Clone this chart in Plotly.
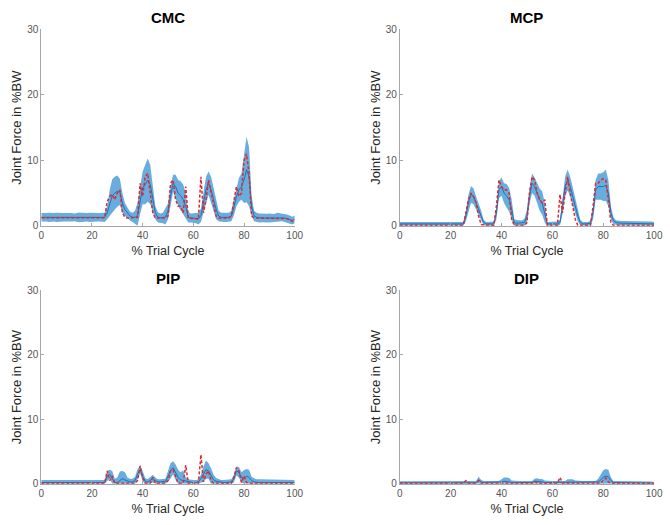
import plotly.graph_objects as go

# Percent of trial cycle (shared x grid for every joint)
cycle = list(range(0, 101))

# ---- CMC ----
cmc_mean = [
    1.3, 1.3, 1.3, 1.3, 1.3, 1.3, 1.3, 1.3, 1.3, 1.3,
    1.3, 1.3, 1.3, 1.3, 1.3, 1.3, 1.3, 1.3, 1.3, 1.3,
    1.3, 1.3, 1.3, 1.3, 1.3, 1.3, 2.0, 3.5, 4.6, 5.0,
    5.3, 5.2, 3.5, 2.5, 2.0, 1.5, 1.3, 1.3, 1.6, 3.8,
    5.8, 6.3, 7.0, 6.3, 4.0, 2.0, 1.3, 1.2, 1.2, 1.4,
    2.2, 4.5, 6.5, 6.0, 5.0, 4.6, 4.0, 3.0, 1.3, 1.2,
    1.2, 1.2, 1.1, 1.6, 3.5, 5.5, 6.5, 5.5, 4.0, 2.5,
    1.5, 1.3, 1.3, 1.3, 1.3, 1.5, 2.8, 4.5, 5.5, 6.0,
    7.0, 8.6, 7.5, 3.0, 1.5, 1.3, 1.2, 1.2, 1.2, 1.2,
    1.2, 1.2, 1.2, 1.3, 1.3, 1.3, 1.2, 1.1, 1.0, 0.8,
    1.0,
]
cmc_sd = [
    0.65, 0.6, 0.65, 0.7, 0.65, 0.65, 0.7, 0.65, 0.6, 0.65,
    0.65, 0.7, 0.65, 0.6, 0.7, 0.75, 0.7, 0.65, 0.65, 0.7,
    0.65, 0.7, 0.65, 0.65, 0.7, 0.7, 1.0, 2.0, 2.5, 2.5,
    2.4, 2.0, 1.5, 1.0, 0.8, 0.7, 0.7, 1.0, 2.0, 2.0,
    2.5, 3.0, 3.3, 3.0, 2.0, 1.0, 0.8, 0.7, 0.8, 1.2,
    1.2, 1.5, 1.3, 1.8, 2.0, 2.2, 2.3, 2.0, 0.8, 0.7,
    0.7, 0.8, 0.9, 1.0, 1.5, 2.0, 1.8, 2.0, 1.8, 1.5,
    0.8, 0.7, 0.7, 0.7, 0.7, 0.8, 1.2, 1.5, 1.8, 2.0,
    3.5, 5.0, 4.5, 1.5, 0.8, 0.7, 0.7, 0.65, 0.7, 0.65,
    0.7, 0.65, 0.6, 0.7, 0.65, 0.6, 0.6, 0.65, 0.6, 0.6,
    0.6,
]
cmc_ref = [
    1.25, 1.25, 1.25, 1.25, 1.25, 1.25, 1.25, 1.25, 1.25, 1.25,
    1.25, 1.25, 1.25, 1.25, 1.25, 1.25, 1.25, 1.25, 1.25, 1.25,
    1.25, 1.25, 1.25, 1.25, 1.25, 1.25, 3.7, 4.5, 4.8, 4.0,
    5.0, 5.5, 2.0, 1.3, 1.2, 1.2, 1.2, 1.2, 1.3, 6.5,
    4.5, 7.5, 8.0, 5.0, 2.0, 1.2, 1.2, 1.2, 1.2, 1.2,
    1.5, 6.5, 7.0, 4.0, 3.0, 3.0, 2.0, 6.0, 1.2, 1.2,
    1.2, 1.1, 1.0, 7.5, 2.0, 4.0, 7.0, 5.0, 3.0, 1.5,
    1.2, 1.2, 1.2, 1.2, 1.2, 1.5, 4.0, 6.0, 4.5, 5.0,
    10.0, 11.0, 8.0, 1.5, 1.2, 1.2, 1.2, 1.2, 1.2, 1.2,
    1.2, 1.2, 1.2, 1.2, 1.2, 1.2, 1.2, 1.1, 1.0, 0.7,
    1.0,
]

# ---- MCP ----
mcp_mean = [
    0.3, 0.3, 0.3, 0.3, 0.3, 0.3, 0.3, 0.3, 0.3, 0.3,
    0.3, 0.3, 0.3, 0.3, 0.3, 0.3, 0.3, 0.3, 0.3, 0.3,
    0.3, 0.3, 0.3, 0.3, 0.3, 0.3, 1.5, 3.5, 4.8, 4.5,
    3.5, 2.5, 1.5, 0.5, 0.3, 0.3, 0.3, 0.3, 2.0, 5.5,
    6.0, 5.0, 4.6, 4.0, 2.5, 0.5, 0.4, 0.4, 0.4, 0.5,
    1.5, 4.5, 6.5, 6.0, 5.0, 4.0, 3.5, 2.0, 0.3, 0.3,
    0.3, 0.3, 0.3, 0.5, 3.0, 6.0, 7.0, 6.0, 4.5, 3.0,
    1.5, 0.5, 0.3, 0.3, 0.3, 0.4, 2.0, 5.5, 6.0, 6.0,
    6.0, 6.2, 5.0, 2.0, 0.8, 0.5, 0.4, 0.4, 0.4, 0.4,
    0.4, 0.4, 0.35, 0.35, 0.35, 0.3, 0.3, 0.3, 0.3, 0.3,
    0.3,
]
mcp_sd = [
    0.3, 0.3, 0.3, 0.3, 0.3, 0.3, 0.3, 0.3, 0.3, 0.3,
    0.3, 0.3, 0.3, 0.3, 0.3, 0.3, 0.3, 0.3, 0.3, 0.3,
    0.3, 0.3, 0.3, 0.3, 0.3, 0.3, 0.8, 1.2, 1.3, 1.2,
    1.0, 1.0, 0.8, 0.4, 0.3, 0.3, 0.3, 0.35, 1.0, 1.3,
    1.4, 1.5, 1.8, 1.8, 1.5, 0.5, 0.5, 0.5, 0.4, 0.6,
    1.0, 1.2, 1.5, 1.4, 1.5, 1.7, 1.8, 1.5, 0.3, 0.3,
    0.3, 0.3, 0.35, 0.4, 1.2, 1.5, 1.6, 1.5, 1.4, 1.2,
    0.8, 0.4, 0.3, 0.3, 0.3, 0.4, 1.0, 1.5, 2.0, 2.0,
    2.2, 2.4, 2.0, 1.0, 0.5, 0.35, 0.35, 0.35, 0.35, 0.35,
    0.35, 0.35, 0.35, 0.35, 0.35, 0.35, 0.35, 0.35, 0.35, 0.35,
    0.3,
]
mcp_ref = [
    0.1, 0.1, 0.1, 0.1, 0.1, 0.1, 0.1, 0.1, 0.1, 0.1,
    0.1, 0.1, 0.1, 0.1, 0.1, 0.1, 0.1, 0.1, 0.1, 0.1,
    0.1, 0.1, 0.1, 0.1, 0.1, 0.1, 2.0, 4.0, 5.0, 4.5,
    3.5, 1.5, 0.2, 0.1, 0.1, 0.1, 0.1, 0.1, 3.0, 7.0,
    6.0, 5.5, 5.5, 5.0, 1.0, 0.1, 0.1, 0.1, 0.1, 0.1,
    0.5, 5.0, 7.5, 7.0, 5.0, 4.0, 3.5, 4.0, 0.1, 0.1,
    0.1, 0.1, 0.1, 4.8, 2.0, 5.0, 7.5, 5.0, 3.0, 1.0,
    0.1, 0.1, 0.1, 0.1, 0.1, 0.1, 3.0, 6.5, 6.5, 7.0,
    7.2, 7.0, 4.0, 0.5, 0.1, 0.1, 0.1, 0.1, 0.1, 0.1,
    0.1, 0.1, 0.1, 0.1, 0.1, 0.1, 0.1, 0.1, 0.1, 0.1,
    0.1,
]

# ---- PIP ----
pip_mean = [
    0.2, 0.2, 0.2, 0.2, 0.2, 0.2, 0.2, 0.2, 0.2, 0.2,
    0.2, 0.2, 0.2, 0.2, 0.2, 0.2, 0.2, 0.2, 0.2, 0.2,
    0.2, 0.2, 0.2, 0.2, 0.2, 0.2, 1.2, 1.5, 0.8, 0.2,
    0.2, 0.5, 0.8, 0.6, 0.4, 0.3, 0.3, 0.5, 1.5, 2.2,
    1.2, 0.4, 0.3, 0.5, 0.8, 0.5, 0.3, 0.3, 0.3, 0.4,
    1.2, 2.0, 2.5, 1.8, 1.0, 0.6, 0.5, 0.4, 0.3, 0.2,
    0.2, 0.2, 0.3, 0.8, 1.5, 2.2, 2.0, 1.2, 0.6, 0.4,
    0.3, 0.2, 0.2, 0.2, 0.2, 0.3, 0.8, 2.0, 1.8, 1.0,
    0.8, 1.2, 1.0, 0.5, 0.3, 0.2, 0.2, 0.2, 0.2, 0.2,
    0.2, 0.2, 0.2, 0.2, 0.2, 0.2, 0.2, 0.2, 0.2, 0.2,
    0.2,
]
pip_sd = [
    0.4, 0.4, 0.4, 0.4, 0.4, 0.4, 0.4, 0.4, 0.4, 0.4,
    0.4, 0.4, 0.4, 0.4, 0.4, 0.4, 0.4, 0.4, 0.4, 0.4,
    0.4, 0.4, 0.4, 0.4, 0.4, 0.4, 0.8, 0.7, 1.2, 0.6,
    0.8, 1.4, 1.2, 1.2, 0.6, 0.5, 0.5, 0.6, 0.8, 0.6,
    0.8, 0.5, 0.4, 0.6, 0.6, 0.5, 0.4, 0.4, 0.4, 0.4,
    0.8, 1.2, 1.0, 1.2, 1.2, 1.2, 1.6, 0.6, 0.4, 0.4,
    0.4, 0.4, 0.4, 0.6, 1.2, 1.4, 1.2, 1.2, 0.8, 0.5,
    0.4, 0.4, 0.4, 0.4, 0.4, 0.4, 0.6, 0.7, 0.8, 0.8,
    1.3, 1.1, 1.2, 0.6, 0.55, 0.5, 0.5, 0.5, 0.5, 0.5,
    0.5, 0.5, 0.5, 0.5, 0.5, 0.5, 0.45, 0.4, 0.4, 0.4,
    0.4,
]
pip_ref = [
    0.1, 0.1, 0.1, 0.1, 0.1, 0.1, 0.1, 0.1, 0.1, 0.1,
    0.1, 0.1, 0.1, 0.1, 0.1, 0.1, 0.1, 0.1, 0.1, 0.1,
    0.1, 0.1, 0.1, 0.1, 0.1, 0.1, 2.0, 0.5, 1.2, 0.1,
    0.1, 0.1, 0.1, 0.1, 0.1, 0.1, 0.1, 0.1, 0.5, 2.8,
    1.0, 0.1, 0.1, 0.1, 1.0, 0.1, 0.1, 0.1, 0.1, 0.1,
    0.5, 2.0, 2.2, 1.0, 0.1, 0.1, 0.1, 2.9, 0.1, 0.1,
    0.1, 0.1, 0.1, 4.5, 0.3, 1.5, 2.0, 0.5, 0.1, 0.1,
    0.1, 0.1, 0.1, 0.1, 0.1, 0.1, 1.0, 2.5, 2.0, 0.2,
    1.2, 0.2, 0.1, 0.1, 0.1, 0.1, 0.1, 0.1, 0.1, 0.1,
    0.1, 0.1, 0.1, 0.1, 0.1, 0.1, 0.1, 0.1, 0.1, 0.1,
    0.1,
]

# ---- DIP ----
dip_mean = [
    0.15, 0.15, 0.15, 0.15, 0.15, 0.15, 0.15, 0.15, 0.15, 0.15,
    0.15, 0.15, 0.15, 0.15, 0.15, 0.15, 0.15, 0.15, 0.15, 0.15,
    0.15, 0.15, 0.15, 0.15, 0.15, 0.15, 0.15, 0.15, 0.15, 0.15,
    0.15, 0.6, 0.3, 0.2, 0.2, 0.2, 0.2, 0.2, 0.2, 0.2,
    0.3, 0.4, 0.4, 0.3, 0.2, 0.2, 0.2, 0.2, 0.2, 0.2,
    0.2, 0.2, 0.2, 0.4, 0.4, 0.3, 0.3, 0.2, 0.2, 0.2,
    0.2, 0.2, 0.2, 0.2, 0.2, 0.2, 0.3, 0.3, 0.3, 0.2,
    0.2, 0.2, 0.2, 0.2, 0.2, 0.2, 0.2, 0.2, 0.3, 0.6,
    1.0, 1.2, 1.1, 0.5, 0.2, 0.2, 0.2, 0.2, 0.2, 0.2,
    0.2, 0.2, 0.2, 0.2, 0.2, 0.2, 0.2, 0.2, 0.15, 0.15,
    0.1,
]
dip_sd = [
    0.25, 0.25, 0.25, 0.25, 0.25, 0.25, 0.25, 0.25, 0.25, 0.25,
    0.25, 0.25, 0.25, 0.25, 0.25, 0.25, 0.25, 0.25, 0.25, 0.25,
    0.25, 0.25, 0.25, 0.25, 0.25, 0.25, 0.25, 0.25, 0.25, 0.25,
    0.3, 0.5, 0.3, 0.25, 0.25, 0.25, 0.25, 0.25, 0.25, 0.25,
    0.4, 0.6, 0.6, 0.6, 0.3, 0.25, 0.25, 0.25, 0.25, 0.25,
    0.25, 0.25, 0.25, 0.4, 0.45, 0.45, 0.45, 0.3, 0.25, 0.25,
    0.25, 0.25, 0.25, 0.25, 0.25, 0.25, 0.4, 0.4, 0.4, 0.3,
    0.25, 0.25, 0.25, 0.25, 0.25, 0.25, 0.25, 0.25, 0.5, 0.8,
    1.1, 1.1, 1.1, 0.5, 0.25, 0.25, 0.25, 0.25, 0.25, 0.25,
    0.25, 0.25, 0.25, 0.25, 0.25, 0.25, 0.25, 0.2, 0.2, 0.2,
    0.1,
]
dip_ref = [
    0.1, 0.1, 0.1, 0.1, 0.1, 0.1, 0.1, 0.1, 0.1, 0.1,
    0.1, 0.1, 0.1, 0.1, 0.1, 0.1, 0.1, 0.1, 0.1, 0.1,
    0.1, 0.1, 0.1, 0.1, 0.1, 0.1, 0.5, 0.1, 0.1, 0.1,
    0.1, 0.5, 0.1, 0.1, 0.1, 0.1, 0.1, 0.1, 0.1, 0.1,
    0.1, 0.1, 0.1, 0.1, 0.1, 0.1, 0.1, 0.1, 0.1, 0.1,
    0.1, 0.1, 0.1, 0.4, 0.1, 0.1, 0.1, 0.1, 0.1, 0.1,
    0.1, 0.1, 0.1, 1.0, 0.1, 0.1, 0.1, 0.1, 0.1, 0.1,
    0.1, 0.1, 0.1, 0.1, 0.1, 0.1, 0.1, 0.1, 0.1, 0.1,
    0.5, 0.9, 0.3, 0.1, 0.1, 0.1, 0.1, 0.1, 0.1, 0.1,
    0.1, 0.1, 0.1, 0.1, 0.1, 0.1, 0.1, 0.1, 0.1, 0.1,
    0.1,
]

joint_names = ["CMC", "MCP", "PIP", "DIP"]
joint_data = [
    (cmc_mean, cmc_sd, cmc_ref),
    (mcp_mean, mcp_sd, mcp_ref),
    (pip_mean, pip_sd, pip_ref),
    (dip_mean, dip_sd, dip_ref),
]

x_ticks = [0, 20, 40, 60, 80, 100]
y_ticks = [0, 10, 20, 30]

W, H = 670, 525
# panel boxes in pixels: (left, right, top, bottom)
boxes = [
    (39, 297, 24, 225),
    (404, 663, 24, 225),
    (39, 297, 291, 489),
    (404, 663, 291, 489),
]

BAND = "#68ADDD"
MEAN = "#1f70bb"
REF = "#dc2a2e"
FONT = "Liberation Sans, Arial, sans-serif"

fig = go.Figure()
layout = dict(
    width=W, height=H,
    margin=dict(l=0, r=0, t=0, b=0),
    paper_bgcolor="white", plot_bgcolor="white",
    showlegend=False,
    font=dict(family=FONT, color="#262626"),
    annotations=[],
)

for i, (name, (mean, sd, ref)) in enumerate(zip(joint_names, joint_data)):
    n = i + 1
    xa = "x" if n == 1 else f"x{n}"
    ya = "y" if n == 1 else f"y{n}"
    upper = [m + s for m, s in zip(mean, sd)]
    lower = [max(m - s, 0.0) for m, s in zip(mean, sd)]

    fig.add_trace(go.Scatter(x=cycle, y=lower, mode="lines",
                             line=dict(width=0, color=BAND),
                             xaxis=xa, yaxis=ya, hoverinfo="skip"))
    fig.add_trace(go.Scatter(x=cycle, y=upper, mode="lines",
                             line=dict(width=0, color=BAND),
                             fill="tonexty", fillcolor=BAND,
                             xaxis=xa, yaxis=ya, hoverinfo="skip"))
    fig.add_trace(go.Scatter(x=cycle, y=mean, mode="lines",
                             line=dict(width=1.0, color=MEAN),
                             xaxis=xa, yaxis=ya))
    fig.add_trace(go.Scatter(x=cycle, y=ref, mode="lines",
                             line=dict(width=1.5, color=REF, dash="3px,2px"),
                             xaxis=xa, yaxis=ya))

    left, right, top, bottom = boxes[i]
    xdom = [left / W, right / W]
    ydom = [1 - bottom / H, 1 - top / H]
    axis_common = dict(
        showline=True, linecolor="#a6a6a6", linewidth=1,
        ticks="inside", ticklen=3, tickcolor="#a6a6a6",
        showgrid=False, zeroline=False, mirror=False,
        tickfont=dict(size=10, color="#555555", family=FONT),
    )
    layout["xaxis" if n == 1 else f"xaxis{n}"] = dict(
        axis_common, domain=xdom, range=[0, 100], tickvals=x_ticks,
        anchor=ya,
        title=dict(text="% Trial Cycle", standoff=6,
                   font=dict(size=12.5, color="#262626", family=FONT)),
    )
    layout["yaxis" if n == 1 else f"yaxis{n}"] = dict(
        axis_common, domain=ydom, range=[0, 30], tickvals=y_ticks,
        anchor=xa,
        title=dict(text="Joint Force in %BW", standoff=2,
                   font=dict(size=13, color="#262626", family=FONT)),
    )
    layout["annotations"].append(dict(
        text=f"<b>{name}</b>", x=(xdom[0] + xdom[1]) / 2, y=1 - (top - 12) / H,
        xref="paper", yref="paper", showarrow=False,
        xanchor="center", yanchor="middle",
        font=dict(size=15, color="black", family=FONT),
    ))

fig.update_layout(**layout)
fig.write_html("out.html")
